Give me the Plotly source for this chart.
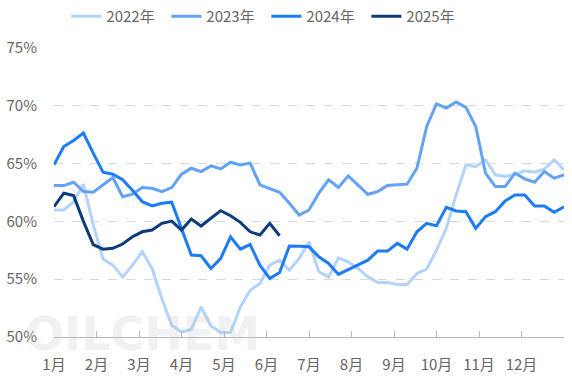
import plotly.graph_objects as go

weeks = list(range(53))
month_ticks = [i * 52 / 12 for i in range(12)] + [52]
month_labels = ["1月", "2月", "3月", "4月", "5月", "6月", "7月", "8月", "9月", "10月", "11月", "12月", ""]

y2022 = [60.99, 60.99, 61.7, 63.22, 59.7, 56.74, 56.22, 55.2, 56.22, 57.37, 55.93, 53.33, 51.01,
         50.43, 50.67, 52.6, 50.95, 50.38, 50.38, 52.6, 54.05, 54.63, 56.22, 56.65, 55.78, 56.8,
         58.24, 55.64, 55.2, 56.85, 56.5, 55.93, 55.2, 54.72, 54.72, 54.55, 54.55, 55.5, 55.87,
         57.52, 59.4, 62.29, 64.89, 64.74, 65.33, 64.03, 63.88, 64.08, 64.37, 64.26, 64.54, 65.33, 64.46]
y2023 = [63.1, 63.1, 63.39, 62.58, 62.52, 63.16, 63.8, 62.14, 62.35, 62.93, 62.87, 62.58, 62.93,
         64.08, 64.6, 64.31, 64.8, 64.54, 65.12, 64.89, 65.04, 63.16, 62.87, 62.52, 61.57, 60.55,
         60.99, 62.44, 63.59, 62.93, 63.94, 63.16, 62.35, 62.58, 63.1, 63.16, 63.22, 64.6, 68.21,
         70.16, 69.81, 70.33, 69.86, 68.21, 64.17, 63.01, 63.01, 64.17, 63.68, 63.39, 64.31, 63.74, 64.03]
y2024 = [64.89, 66.48, 67.0, 67.64, 65.9, 64.26, 64.08, 63.6, 62.7, 61.7, 61.34, 61.57, 61.66,
         59.3, 57.09, 57.03, 55.93, 56.8, 58.67, 57.6, 58.0, 56.2, 55.06, 55.58, 57.87, 57.85,
         57.8, 56.94, 56.36, 55.41, 55.8, 56.2, 56.65, 57.43, 57.43, 58.1, 57.6, 59.1, 59.83,
         59.63, 61.22, 60.9, 60.84, 59.4, 60.41, 60.84, 61.77, 62.29, 62.29, 61.34, 61.34, 60.79, 61.27]
y2025 = [61.27, 62.44, 62.23, 60.0, 58.0, 57.6, 57.67, 58.04, 58.67, 59.1, 59.25, 59.83, 60.03,
         59.25, 60.21, 59.6, 60.27, 60.93, 60.49, 59.92, 59.1, 58.82, 59.83, 58.76]

series = [
    ("2022年", y2022, "#b4d3fb"),
    ("2023年", y2023, "#62a3f8"),
    ("2024年", y2024, "#1c7bf6"),
    ("2025年", y2025, "#0c3c7c"),
]

FONT = "Noto Sans CJK SC, Microsoft YaHei, sans-serif"

fig = go.Figure()
for name, vals, color in series:
    fig.add_trace(go.Scatter(
        x=weeks[:len(vals)], y=vals, name=name, mode="lines",
        line=dict(color=color, width=3),
    ))

# faint watermark
fig.add_annotation(
    text="OILCHEM", xref="paper", yref="paper", x=-0.06, y=-0.09,
    xanchor="left", yanchor="bottom", showarrow=False,
    font=dict(size=46, color="rgba(195,195,195,0.24)", family="DejaVu Sans", weight="bold"),
)

fig.update_layout(
    width=572, height=377,
    margin=dict(l=54, r=8, t=48, b=40, autoexpand=False),
    paper_bgcolor="white", plot_bgcolor="white",
    font=dict(family=FONT, size=15, color="#666666"),
    showlegend=True,
    legend=dict(
        orientation="h", xref="container", yref="container",
        x=0.116, y=1.0, xanchor="left", yanchor="top",
        entrywidth=55, entrywidthmode="pixels",
        font=dict(size=15, color="#666666"),
        bgcolor="rgba(0,0,0,0)",
    ),
    xaxis=dict(
        range=[0, 52], tickmode="array", tickvals=month_ticks, ticktext=month_labels,
        showgrid=False, zeroline=False, showline=True, linecolor="#b8b8b8", linewidth=1,
        ticks="inside", ticklen=6, tickcolor="#b8b8b8",
        tickfont=dict(size=15, color="#666666"), ticklabelstandoff=14,
    ),
    yaxis=dict(
        range=[50, 75], tickvals=[50, 55, 60, 65, 70, 75],
        ticktext=["50%", "55%", "60%", "65%", "70%", "75%"],
        showgrid=True, gridcolor="#d9d9d9", griddash="dash", gridwidth=1,
        zeroline=False, showline=False,
        tickfont=dict(size=15, color="#666666"), ticklabelstandoff=16,
    ),
)

fig.write_html("out.html", config={"displayModeBar": False},
               post_script="document.body.style.margin='0px';")
